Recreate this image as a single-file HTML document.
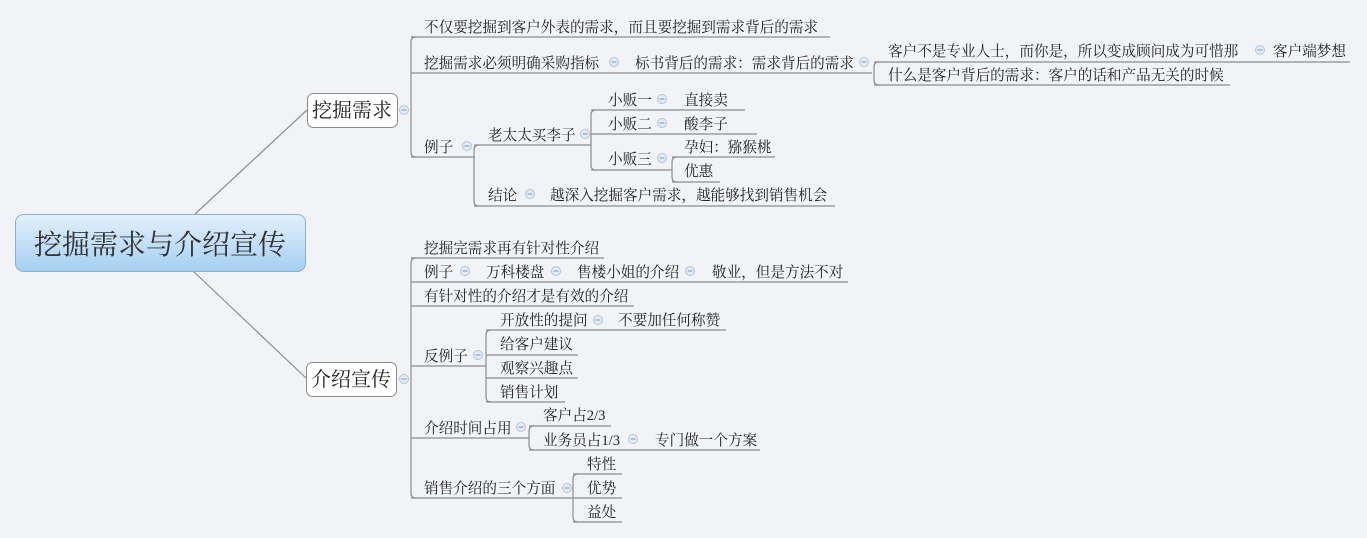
<!DOCTYPE html>
<html><head><meta charset="utf-8"><style>
html,body{margin:0;padding:0;background:#f1f3f6;}
svg{display:block}
text{font-family:"Liberation Serif","Noto Serif CJK SC",serif;font-size:14.6px;fill:#222}
</style></head><body>
<svg width="1367" height="538" viewBox="0 0 1367 538" xmlns="http://www.w3.org/2000/svg">
<defs>
<linearGradient id="g" x1="0" y1="0" x2="0" y2="1"><stop offset="0" stop-color="#e2f0fc"/><stop offset="1" stop-color="#a5cff2"/></linearGradient>
<g id="d"><circle cx="0" cy="0" r="4.5" fill="#e4ebf3" stroke="#b4c4d6"/><line x1="-2.5" y1="0" x2="2.5" y2="0" stroke="#7f97b2"/></g>
</defs>
<g stroke="#8d8d8d" stroke-width="1.2" fill="none">
<line x1="194" y1="215" x2="307" y2="110"/>
<line x1="193" y1="271" x2="306" y2="378"/>
<!-- brackets -->
<path d="M416 37 Q411 37 411 42 L411 152 Q411 157 416 157"/>
<path d="M879 62 Q874 62 874 67 L874 80 Q874 85 879 85"/>
<path d="M479 145 Q474 145 474 150 L474 201 Q474 206 479 206"/>
<path d="M596 110 Q591 110 591 115 L591 165 Q591 170 596 170"/>
<path d="M677 157 Q672 157 672 162 L672 177 Q672 182 677 182"/>
<path d="M416 258 Q411 258 411 263 L411 493 Q411 498 416 498"/>
<path d="M491 330 Q486 330 486 335 L486 397 Q486 402 491 402"/>
<path d="M534 426 Q529 426 529 431 L529 445 Q529 450 534 450"/>
<path d="M578 474 Q573 474 573 479 L573 517 Q573 522 578 522"/>
<!-- underlines -->
<line x1="411" y1="37" x2="830" y2="37"/>
<line x1="411" y1="73" x2="872" y2="73"/>
<line x1="874" y1="62" x2="1350" y2="62"/>
<line x1="874" y1="85" x2="1230" y2="85"/>
<line x1="411" y1="157" x2="475" y2="157"/>
<line x1="474" y1="145" x2="591" y2="145"/>
<line x1="591" y1="110" x2="745" y2="110"/>
<line x1="591" y1="134" x2="757" y2="134"/>
<line x1="591" y1="170" x2="672" y2="170"/>
<line x1="672" y1="157" x2="775" y2="157"/>
<line x1="672" y1="182" x2="720" y2="182"/>
<line x1="474" y1="206" x2="835" y2="206"/>
<line x1="411" y1="258" x2="604" y2="258"/>
<line x1="411" y1="282" x2="848" y2="282"/>
<line x1="411" y1="306" x2="634" y2="306"/>
<line x1="411" y1="366" x2="486" y2="366"/>
<line x1="486" y1="330" x2="726" y2="330"/>
<line x1="486" y1="355" x2="578" y2="355"/>
<line x1="486" y1="378" x2="578" y2="378"/>
<line x1="486" y1="402" x2="565" y2="402"/>
<line x1="411" y1="438" x2="529" y2="438"/>
<line x1="529" y1="426" x2="611" y2="426"/>
<line x1="529" y1="450" x2="760" y2="450"/>
<line x1="411" y1="498" x2="573" y2="498"/>
<line x1="573" y1="474" x2="622" y2="474"/>
<line x1="573" y1="498" x2="622" y2="498"/>
<line x1="573" y1="522" x2="622" y2="522"/>
</g>
<!-- root & main boxes -->
<rect x="15.5" y="214.5" width="290" height="57" rx="8" fill="url(#g)" stroke="#8fb0cc"/>
<text x="160" y="254" text-anchor="middle" style="font-size:28px;fill:#333">挖掘需求与介绍宣传</text>
<rect x="307.5" y="93.5" width="90" height="34" rx="6" fill="#fff" stroke="#8a8a8a"/>
<text x="352" y="117" text-anchor="middle" style="font-size:20px">挖掘需求</text>
<rect x="306.5" y="362.5" width="90" height="34" rx="6" fill="#fff" stroke="#8a8a8a"/>
<text x="351" y="386" text-anchor="middle" style="font-size:20px">介绍宣传</text>
<!-- dots -->
<use href="#d" x="404" y="110"/><use href="#d" x="404" y="379"/>
<use href="#d" x="614" y="62"/><use href="#d" x="864" y="62"/><use href="#d" x="1260" y="50"/>
<use href="#d" x="467" y="146"/><use href="#d" x="585" y="134"/>
<use href="#d" x="662" y="99"/><use href="#d" x="662" y="123"/><use href="#d" x="662" y="158"/>
<use href="#d" x="530" y="194"/>
<use href="#d" x="465" y="271"/><use href="#d" x="556" y="271"/><use href="#d" x="690" y="271"/>
<use href="#d" x="478" y="355"/><use href="#d" x="598" y="320"/>
<use href="#d" x="521" y="427"/><use href="#d" x="633" y="439"/><use href="#d" x="567" y="488"/>
<!-- texts -->
<text x="424" y="32">不仅要挖掘到客户外表的需求，而且要挖掘到需求背后的需求</text>
<text x="424" y="68">挖掘需求必须明确采购指标</text>
<text x="635" y="68">标书背后的需求：需求背后的需求</text>
<text x="888" y="56">客户不是专业人士，而你是，所以变成顾问成为可惜那</text>
<text x="1273" y="56">客户端梦想</text>
<text x="888" y="80">什么是客户背后的需求：客户的话和产品无关的时候</text>
<text x="424" y="152">例子</text>
<text x="488" y="140">老太太买李子</text>
<text x="608" y="105">小贩一</text><text x="684" y="105">直接卖</text>
<text x="608" y="129">小贩二</text><text x="684" y="129">酸李子</text>
<text x="608" y="164">小贩三</text>
<text x="684" y="152">孕妇：猕猴桃</text>
<text x="684" y="176">优惠</text>
<text x="488" y="200">结论</text><text x="550" y="200">越深入挖掘客户需求，越能够找到销售机会</text>
<text x="424" y="253">挖掘完需求再有针对性介绍</text>
<text x="424" y="277">例子</text><text x="486" y="277">万科楼盘</text><text x="577" y="277">售楼小姐的介绍</text><text x="712" y="277">敬业，但是方法不对</text>
<text x="424" y="301">有针对性的介绍才是有效的介绍</text>
<text x="424" y="361">反例子</text>
<text x="500" y="325">开放性的提问</text><text x="618" y="325">不要加任何称赞</text>
<text x="500" y="349">给客户建议</text>
<text x="500" y="373">观察兴趣点</text>
<text x="500" y="397">销售计划</text>
<text x="424" y="433">介绍时间占用</text>
<text x="543" y="420">客户占2/3</text>
<text x="543" y="445">业务员占1/3</text><text x="655" y="445">专门做一个方案</text>
<text x="424" y="493">销售介绍的三个方面</text>
<text x="587" y="469">特性</text><text x="587" y="493">优势</text><text x="587" y="517">益处</text>
</svg>
</body></html>
